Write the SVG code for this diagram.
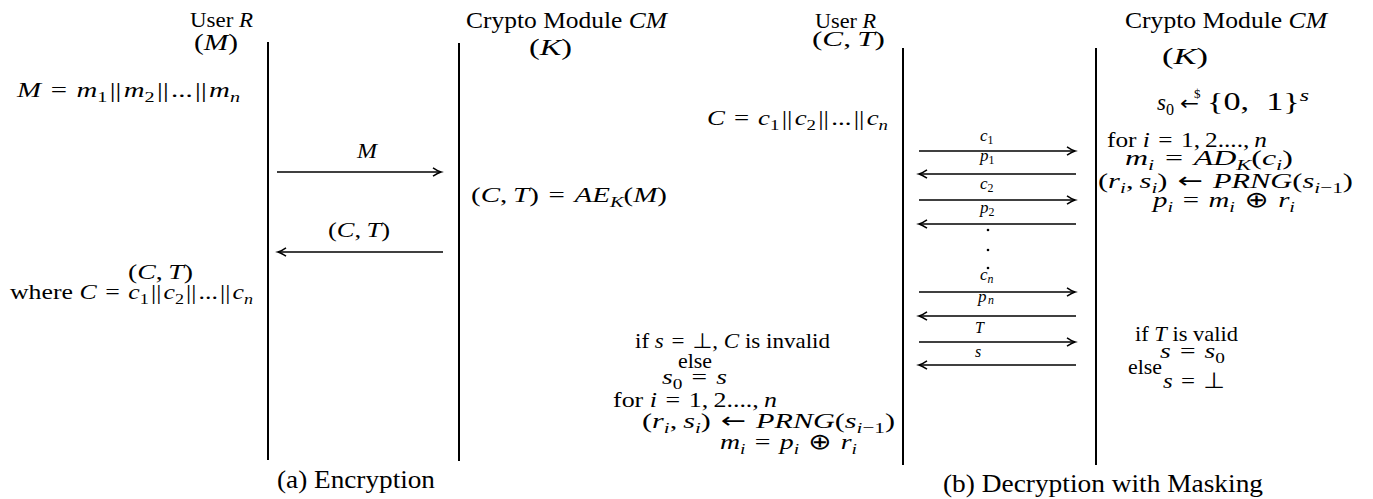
<svg xmlns="http://www.w3.org/2000/svg" width="1373" height="499" viewBox="0 0 1373 499">
<style>
.t{font-family:"Liberation Serif","DejaVu Serif","DejaVu Sans",serif;fill:#000}
.i{font-style:italic}
.s{font-size:70%}
.y{font-family:"DejaVu Sans",sans-serif;font-style:normal}
.ln{stroke:#000;stroke-width:2}
.ar{stroke:#000;stroke-width:1.6;fill:none;marker-end:url(#ah)}
</style>
<defs>
<marker id="ah" markerUnits="userSpaceOnUse" markerWidth="12" markerHeight="10" refX="10" refY="5" orient="auto" overflow="visible">
<path d="M2,0.8 Q7,4.2 10,5 Q7,5.8 2,9.2" fill="none" stroke="#000" stroke-width="1.5"/>
</marker>
</defs>
<rect width="1373" height="499" fill="#fff"/>

<!-- (a) Encryption -->
<g id="enc-user">
<line class="ln" x1="268" y1="42" x2="268" y2="460"/>
<text class="t" x="190" y="27" font-size="20" textLength="63" lengthAdjust="spacingAndGlyphs">User <tspan class="i">R</tspan></text>
<text class="t" x="194" y="50" font-size="23" textLength="44" lengthAdjust="spacingAndGlyphs">(<tspan class="i">M</tspan>)</text>
<text class="t" x="17" y="97" font-size="22" textLength="223" lengthAdjust="spacingAndGlyphs"><tspan class="i">M</tspan>&#x2004;=&#x2004;<tspan class="i">m</tspan><tspan class="s" dy="5">1</tspan><tspan dy="-5">&#x200A;||&#x200A;</tspan><tspan class="i">m</tspan><tspan class="s" dy="5">2</tspan><tspan dy="-5">&#x200A;||&#x200A;...&#x200A;||&#x200A;</tspan><tspan class="i">m</tspan><tspan class="s i" dy="5">n</tspan></text>
<text class="t" x="128" y="279" font-size="21" textLength="65" lengthAdjust="spacingAndGlyphs">(<tspan class="i">C</tspan>,&#x2009;<tspan class="i">T</tspan>)</text>
<text class="t" x="10" y="299" font-size="21" textLength="243" lengthAdjust="spacingAndGlyphs">where <tspan class="i">C</tspan>&#x2004;=&#x2004;<tspan class="i">c</tspan><tspan class="s" dy="5">1</tspan><tspan dy="-5">&#x200A;||&#x200A;</tspan><tspan class="i">c</tspan><tspan class="s" dy="5">2</tspan><tspan dy="-5">&#x200A;||&#x200A;...&#x200A;||&#x200A;</tspan><tspan class="i">c</tspan><tspan class="s i" dy="5">n</tspan></text>
</g>

<g id="enc-cm">
<line class="ln" x1="459" y1="43" x2="459" y2="461"/>
<text class="t" x="466" y="28" font-size="23" textLength="201" lengthAdjust="spacingAndGlyphs">Crypto Module <tspan class="i">CM</tspan></text>
<text class="t" x="529" y="55" font-size="23" textLength="43" lengthAdjust="spacingAndGlyphs">(<tspan class="i">K</tspan>)</text>
<text class="t" x="471" y="202" font-size="22" textLength="196" lengthAdjust="spacingAndGlyphs">(<tspan class="i">C</tspan>,&#x2009;<tspan class="i">T</tspan>)&#x2004;=&#x2004;<tspan class="i">AE</tspan><tspan class="s i" dy="5">K</tspan><tspan dy="-5">(</tspan><tspan class="i">M</tspan>)</text>
</g>

<g id="enc-caption">
<text class="t" x="277" y="488" font-size="25" textLength="158" lengthAdjust="spacingAndGlyphs">(a) Encryption</text>
</g>

<!-- (b) Decryption -->
<g id="dec-user">
<line class="ln" x1="903" y1="48" x2="903" y2="465"/>
<text class="t" x="815" y="28" font-size="20" textLength="61" lengthAdjust="spacingAndGlyphs">User <tspan class="i">R</tspan></text>
<text class="t" x="812" y="46" font-size="22" textLength="73" lengthAdjust="spacingAndGlyphs">(<tspan class="i">C</tspan>,&#x2009;<tspan class="i">T</tspan>)</text>
<text class="t" x="707" y="125" font-size="22" textLength="181" lengthAdjust="spacingAndGlyphs"><tspan class="i">C</tspan>&#x2004;=&#x2004;<tspan class="i">c</tspan><tspan class="s" dy="5">1</tspan><tspan dy="-5">&#x200A;||&#x200A;</tspan><tspan class="i">c</tspan><tspan class="s" dy="5">2</tspan><tspan dy="-5">&#x200A;||&#x200A;...&#x200A;||&#x200A;</tspan><tspan class="i">c</tspan><tspan class="s i" dy="5">n</tspan></text>
</g>

<g id="dec-user-verify">
<text class="t" x="635" y="348" font-size="21" textLength="195" lengthAdjust="spacingAndGlyphs">if <tspan class="i">s</tspan>&#x2004;=&#x2004;<tspan class="y">⊥</tspan>, <tspan class="i">C</tspan> is invalid</text>
<text class="t" x="678" y="368" font-size="21" textLength="34" lengthAdjust="spacingAndGlyphs">else</text>
<text class="t" x="662" y="384" font-size="22" textLength="65" lengthAdjust="spacingAndGlyphs"><tspan class="i">s</tspan><tspan class="s" dy="5">0</tspan><tspan dy="-5">&#x2004;=&#x2004;</tspan><tspan class="i">s</tspan></text>
<text class="t" x="613" y="407" font-size="21" textLength="164" lengthAdjust="spacingAndGlyphs">for <tspan class="i">i</tspan>&#x2004;=&#x2004;1,&#x2009;2....,&#x2009;<tspan class="i">n</tspan></text>
<text class="t" x="642" y="428" font-size="22" textLength="253" lengthAdjust="spacingAndGlyphs">(<tspan class="i">r</tspan><tspan class="s i" dy="5">i</tspan><tspan dy="-5">,&#x2009;</tspan><tspan class="i">s</tspan><tspan class="s i" dy="5">i</tspan><tspan dy="-5">)</tspan><tspan class="y">&#x2004;←&#x2004;</tspan><tspan class="i">PRNG</tspan>(<tspan class="i">s</tspan><tspan class="s" dy="5"><tspan class="i">i</tspan>−1</tspan><tspan dy="-5">)</tspan></text>
<text class="t" x="720" y="449" font-size="22" textLength="137" lengthAdjust="spacingAndGlyphs"><tspan class="i">m</tspan><tspan class="s i" dy="5">i</tspan><tspan dy="-5">&#x2004;=&#x2004;</tspan><tspan class="i">p</tspan><tspan class="s i" dy="5">i</tspan><tspan class="y" dy="-5">&#x2004;⊕&#x2004;</tspan><tspan class="i">r</tspan><tspan class="s i" dy="5">i</tspan></text>
</g>

<g id="dec-cm">
<line class="ln" x1="1096" y1="48" x2="1096" y2="465"/>
<text class="t" x="1125" y="28" font-size="23" textLength="202" lengthAdjust="spacingAndGlyphs">Crypto Module <tspan class="i">CM</tspan></text>
<text class="t" x="1162" y="64" font-size="23" textLength="46" lengthAdjust="spacingAndGlyphs">(<tspan class="i">K</tspan>)</text>
<text class="t" x="1157" y="110" font-size="23"><tspan class="i">s</tspan><tspan class="s" dy="5">0</tspan></text>
<text class="t y" x="1180" y="110" font-size="20" textLength="19" lengthAdjust="spacingAndGlyphs">←</text>
<text class="t" x="1194" y="98" font-size="13">$</text>
<text class="t" x="1207" y="110" font-size="25" textLength="102" lengthAdjust="spacingAndGlyphs">{0,&#x2002;1}<tspan class="s i" dy="-9">s</tspan></text>
<text class="t" x="1107" y="147" font-size="21" textLength="160" lengthAdjust="spacingAndGlyphs">for <tspan class="i">i</tspan>&#x2004;=&#x2004;1,&#x2009;2....,&#x2009;<tspan class="i">n</tspan></text>
<text class="t" x="1125" y="165" font-size="22" textLength="168" lengthAdjust="spacingAndGlyphs"><tspan class="i">m</tspan><tspan class="s i" dy="5">i</tspan><tspan dy="-5">&#x2004;=&#x2004;</tspan><tspan class="i">AD</tspan><tspan class="s i" dy="5">K</tspan><tspan dy="-5">(</tspan><tspan class="i">c</tspan><tspan class="s i" dy="5">i</tspan><tspan dy="-5">)</tspan></text>
<text class="t" x="1098" y="188" font-size="22" textLength="255" lengthAdjust="spacingAndGlyphs">(<tspan class="i">r</tspan><tspan class="s i" dy="5">i</tspan><tspan dy="-5">,&#x2009;</tspan><tspan class="i">s</tspan><tspan class="s i" dy="5">i</tspan><tspan dy="-5">)</tspan><tspan class="y">&#x2004;←&#x2004;</tspan><tspan class="i">PRNG</tspan>(<tspan class="i">s</tspan><tspan class="s" dy="5"><tspan class="i">i</tspan>−1</tspan><tspan dy="-5">)</tspan></text>
<text class="t" x="1153" y="207" font-size="22" textLength="142" lengthAdjust="spacingAndGlyphs"><tspan class="i">p</tspan><tspan class="s i" dy="5">i</tspan><tspan dy="-5">&#x2004;=&#x2004;</tspan><tspan class="i">m</tspan><tspan class="s i" dy="5">i</tspan><tspan class="y" dy="-5">&#x2004;⊕&#x2004;</tspan><tspan class="i">r</tspan><tspan class="s i" dy="5">i</tspan></text>
<text class="t" x="1135" y="341" font-size="21" textLength="103" lengthAdjust="spacingAndGlyphs">if <tspan class="i">T</tspan> is valid</text>
<text class="t" x="1160" y="358" font-size="22" textLength="65" lengthAdjust="spacingAndGlyphs"><tspan class="i">s</tspan>&#x2004;=&#x2004;<tspan class="i">s</tspan><tspan class="s" dy="5">0</tspan></text>
<text class="t" x="1128" y="374" font-size="21" textLength="34" lengthAdjust="spacingAndGlyphs">else</text>
<text class="t" x="1163" y="388" font-size="22" textLength="62" lengthAdjust="spacingAndGlyphs"><tspan class="i">s</tspan>&#x2004;=&#x2004;<tspan class="y">⊥</tspan></text>
</g>

<g id="dec-caption">
<text class="t" x="943" y="492" font-size="25" textLength="320" lengthAdjust="spacingAndGlyphs">(b) Decryption with Masking</text>
</g>

<!-- connectors -->
<g id="connectors">
<line class="ar" x1="277" y1="172" x2="441" y2="172"/>
<text class="t i" x="357" y="158" font-size="21" textLength="20" lengthAdjust="spacingAndGlyphs">M</text>
<line class="ar" x1="443" y1="252" x2="278" y2="252"/>
<text class="t" x="328" y="237" font-size="21" textLength="62" lengthAdjust="spacingAndGlyphs">(<tspan class="i">C</tspan>,&#x2009;<tspan class="i">T</tspan>)</text>

<line class="ar" x1="919" y1="151" x2="1075" y2="151"/>
<text class="t" x="980" y="141" font-size="17"><tspan class="i">c</tspan><tspan class="s" dy="3">1</tspan></text>
<line class="ar" x1="1076" y1="174" x2="919" y2="174"/>
<text class="t" x="980" y="161" font-size="17"><tspan class="i">p</tspan><tspan class="s" dy="3">1</tspan></text>
<line class="ar" x1="919" y1="200" x2="1075" y2="200"/>
<text class="t" x="980" y="189" font-size="17"><tspan class="i">c</tspan><tspan class="s" dy="3">2</tspan></text>
<line class="ar" x1="1076" y1="224" x2="919" y2="224"/>
<text class="t" x="980" y="213" font-size="17"><tspan class="i">p</tspan><tspan class="s" dy="3">2</tspan></text>
<circle cx="988" cy="230" r="1.3"/>
<circle cx="988" cy="250" r="1.3"/>
<circle cx="988" cy="268" r="1.3"/>
<text class="t" x="980" y="280" font-size="17"><tspan class="i">c</tspan><tspan class="s i" dy="3">n</tspan></text>
<line class="ar" x1="919" y1="292" x2="1075" y2="292"/>
<text class="t" x="978" y="302" font-size="17"><tspan class="i">p</tspan>&#x200A;<tspan class="s i" dy="2">n</tspan></text>
<line class="ar" x1="1076" y1="316" x2="919" y2="316"/>
<text class="t i" x="975" y="333" font-size="16">T</text>
<line class="ar" x1="919" y1="342" x2="1075" y2="342"/>
<text class="t i" x="975" y="357" font-size="16">s</text>
<line class="ar" x1="1076" y1="365" x2="919" y2="365"/>
</g>
</svg>
